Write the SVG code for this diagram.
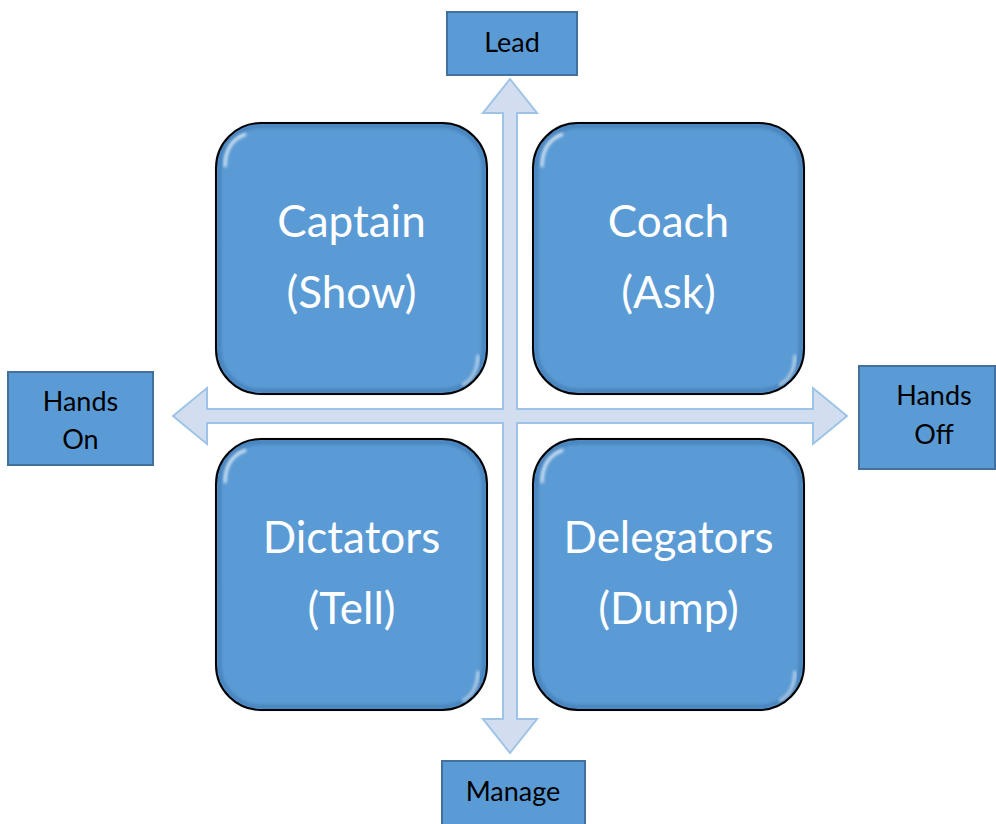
<svg xmlns="http://www.w3.org/2000/svg" xmlns:xlink="http://www.w3.org/1999/xlink" width="996" height="824" viewBox="0 0 996 824">
  <style>
    .big { font-family: Lato, "Open Sans", "Liberation Sans", sans-serif; font-size: 44px; fill: #ffffff; text-anchor: middle; }
    .lbl { font-family: Lato, "Open Sans", "Liberation Sans", sans-serif; font-size: 27px; fill: #000000; text-anchor: middle; }
    .tag { fill: #5B9BD5; stroke: #41719C; stroke-width: 2; }
    .axis { fill: #D2DEEF; stroke: #9DC3E6; stroke-width: 2; stroke-linejoin: miter; }
  </style>
  <defs>
    <filter id="soft" x="-10%" y="-10%" width="120%" height="120%">
      <feGaussianBlur stdDeviation="1.6"/>
    </filter>
    <linearGradient id="shineV" x1="0" y1="0" x2="0" y2="1">
      <stop offset="0" stop-color="#ffffff" stop-opacity="0.95"/>
      <stop offset="0.5" stop-color="#ffffff" stop-opacity="0.45"/>
      <stop offset="1" stop-color="#ffffff" stop-opacity="0.8"/>
    </linearGradient>
    <!-- rounded glossy tile, 271 x 271 -->
    <g id="tile">
      <rect x="0" y="0" width="271" height="271" rx="45" ry="45" fill="#5B9BD5"/>
      <rect x="3" y="3" width="265" height="265" rx="42" ry="42" fill="none" stroke="#3A73AD" stroke-width="5" opacity="0.55" filter="url(#soft)"/>
      <path d="M9,44 Q9,18 30,11" fill="none" stroke="#ffffff" stroke-width="3" opacity="0.75" filter="url(#soft)"/>
      <path d="M9,46 L9,228" fill="none" stroke="url(#shineV)" stroke-width="2.5" filter="url(#soft)"/>
      <path d="M262,46 L262,228" fill="none" stroke="url(#shineV)" stroke-width="2.5" filter="url(#soft)"/>
      <path d="M262,232 Q262,254 246,262" fill="none" stroke="#ffffff" stroke-width="3" opacity="0.6" filter="url(#soft)"/>
      <rect x="0" y="0" width="271" height="271" rx="45" ry="45" fill="none" stroke="#000000" stroke-width="2"/>
    </g>
  </defs>

  <rect x="0" y="0" width="996" height="824" fill="#ffffff"/>

  <!-- two-way axes forming the cross -->
  <g id="connectors">
    <polygon class="axis" points="510,79 537,113 517,113 517,409 813,409 813,388 847,416 813,444 813,423 517,423 517,719 537,719 510,753 483,719 503,719 503,423 207,423 207,444 173,416 207,388 207,409 503,409 503,113 483,113"/>
  </g>

  <!-- quadrant tiles -->
  <g id="captain">
    <use xlink:href="#tile" x="216" y="123"/>
    <text class="big" x="351.5" y="237">Captain</text>
    <text class="big" x="351.5" y="308">(Show)</text>
  </g>
  <g id="coach">
    <use xlink:href="#tile" x="533" y="123"/>
    <text class="big" x="668.5" y="237">Coach</text>
    <text class="big" x="668.5" y="308">(Ask)</text>
  </g>
  <g id="dictators">
    <use xlink:href="#tile" x="216" y="439"/>
    <text class="big" x="351.5" y="553">Dictators</text>
    <text class="big" x="351.5" y="624">(Tell)</text>
  </g>
  <g id="delegators">
    <use xlink:href="#tile" x="533" y="439"/>
    <text class="big" x="668.5" y="553">Delegators</text>
    <text class="big" x="668.5" y="624">(Dump)</text>
  </g>

  <!-- axis end labels -->
  <g id="lead">
    <rect class="tag" x="447" y="12" width="130" height="63"/>
    <text class="lbl" x="512" y="52">Lead</text>
  </g>
  <g id="manage">
    <rect class="tag" x="442" y="761" width="143" height="70"/>
    <text class="lbl" x="513" y="801">Manage</text>
  </g>
  <g id="hands-on">
    <rect class="tag" x="8" y="372" width="145" height="93"/>
    <text class="lbl" x="80.5" y="411">Hands</text>
    <text class="lbl" x="80.5" y="449">On</text>
  </g>
  <g id="hands-off">
    <rect class="tag" x="859" y="366" width="136" height="103"/>
    <text class="lbl" x="934" y="405">Hands</text>
    <text class="lbl" x="934" y="444">Off</text>
  </g>
</svg>
